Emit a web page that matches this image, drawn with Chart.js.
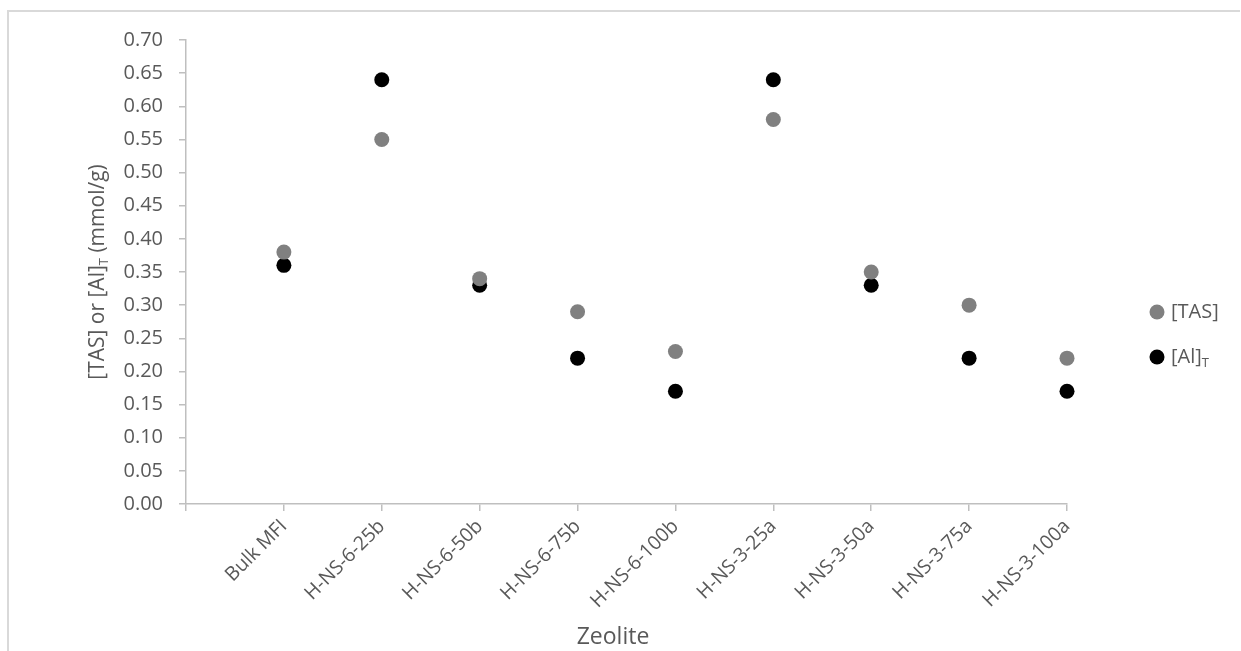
<!DOCTYPE html>
<html>
<head>
<meta charset="utf-8">
<script src="https://cdn.jsdelivr.net/npm/chart.js@4"></script>
<style>
  html, body { margin: 0; padding: 0; background: #ffffff; }
  #wrap { width: 1241px; height: 651px; position: relative; }
</style>
</head>
<body>
<div id="wrap"><canvas id="chart"></canvas></div>
<script>
// Zeolite samples along the x axis
const categories = ['Bulk MFI', 'H-NS-6-25b', 'H-NS-6-50b', 'H-NS-6-75b', 'H-NS-6-100b',
                    'H-NS-3-25a', 'H-NS-3-50a', 'H-NS-3-75a', 'H-NS-3-100a'];
// Total acid sites, mmol/g
const tasValues = [0.38, 0.55, 0.34, 0.29, 0.23, 0.58, 0.35, 0.30, 0.22];
// Tetrahedral aluminium, mmol/g
const alValues  = [0.36, 0.64, 0.33, 0.22, 0.17, 0.64, 0.33, 0.22, 0.17];
// Value axis range
const yMin = 0, yMax = 0.70, yStep = 0.05;

const FONT = '"Open Sans", "Liberation Sans", sans-serif';
const TEXT = '#595959';
const AXIS = '#bfbfbf';

const toPoints = vals => vals.map((v, i) => ({ x: i + 1, y: v }));

// Titles with subscripts, the legend and the frame are painted here
const decorations = {
  id: 'decorations',
  afterDraw(chart) {
    const ctx = chart.ctx;
    const area = chart.chartArea;
    ctx.save();

    // frame around the figure
    ctx.strokeStyle = '#d9d9d9';
    ctx.lineWidth = 2;
    ctx.beginPath();
    ctx.moveTo(8, 660);
    ctx.lineTo(8, 11);
    ctx.lineTo(1240, 11);
    ctx.stroke();

    // draws a run of [text, isSubscript] pieces starting at x, baseline middle at y
    const runWidth = (parts, big, small) => parts.reduce((w, [t, sub]) => {
      ctx.font = (sub ? small : big) + 'px ' + FONT;
      return w + ctx.measureText(t).width;
    }, 0);
    const drawRun = (parts, x, y, big, small) => {
      ctx.textAlign = 'left';
      ctx.textBaseline = 'middle';
      for (const [t, sub] of parts) {
        ctx.font = (sub ? small : big) + 'px ' + FONT;
        ctx.fillText(t, x, sub ? y + big * 0.32 : y);
        x += ctx.measureText(t).width;
      }
    };

    ctx.fillStyle = TEXT;

    // y axis title
    const yTitle = [['[TAS] or [Al]', false], ['T', true], [' (mmol/g)', false]];
    ctx.save();
    ctx.translate(98, (area.top + area.bottom) / 2);
    ctx.rotate(-Math.PI / 2);
    const w = runWidth(yTitle, 21, 13);
    drawRun(yTitle, -w / 2, 0, 21, 13);
    ctx.restore();

    // x axis title
    ctx.font = '23px ' + FONT;
    ctx.textAlign = 'center';
    ctx.textBaseline = 'middle';
    ctx.fillText('Zeolite', 613, 637);

    // legend
    const items = [
      { color: '#808080', parts: [['[TAS]', false]], y: 312 },
      { color: '#000000', parts: [['[Al]', false], ['T', true]], y: 357 }
    ];
    for (const it of items) {
      ctx.fillStyle = it.color;
      ctx.beginPath();
      ctx.arc(1157, it.y, 7.5, 0, Math.PI * 2);
      ctx.fill();
      ctx.fillStyle = TEXT;
      drawRun(it.parts, 1171, it.y, 20, 13);
    }
    ctx.restore();
  }
};

new Chart(document.getElementById('chart'), {
  type: 'scatter',
  data: {
    datasets: [
      { label: '[TAS]', data: toPoints(tasValues), backgroundColor: '#808080', borderColor: '#808080',
        pointRadius: 7.5, pointHoverRadius: 7.5, borderWidth: 0, clip: false },
      { label: '[Al]T', data: toPoints(alValues), backgroundColor: '#000000', borderColor: '#000000',
        pointRadius: 7.5, pointHoverRadius: 7.5, borderWidth: 0, clip: false }
    ]
  },
  options: {
    responsive: true,
    maintainAspectRatio: false,
    animation: false,
    devicePixelRatio: 1,
    layout: { padding: { left: 8, top: 40, right: 174, bottom: 0 } },
    plugins: { legend: { display: false }, tooltip: { enabled: false } },
    scales: {
      x: {
        type: 'linear',
        min: 0,
        max: categories.length,
        afterFit: s => { s.height = 147; },
        afterBuildTicks: s => { s.ticks = categories.map((c, i) => ({ value: i + 1 })); s.ticks.unshift({ value: 0 }); },
        ticks: {
          stepSize: 1,
          autoSkip: false,
          maxRotation: 45,
          minRotation: 45,
          padding: 4,
          color: TEXT,
          font: { family: FONT, size: 19.5 },
          callback: v => categories[v - 1] || ''
        },
        grid: { drawOnChartArea: false, drawTicks: true, tickLength: 7, color: AXIS, lineWidth: 1.5 },
        border: { color: AXIS, width: 1.5 }
      },
      y: {
        min: yMin,
        max: yMax,
        afterFit: s => { s.width = 178; },
        ticks: {
          stepSize: yStep,
          padding: 16,
          color: TEXT,
          font: { family: FONT, size: 20 },
          callback: v => v.toFixed(2)
        },
        grid: { drawOnChartArea: false, drawTicks: true, tickLength: 7, color: AXIS, lineWidth: 1.5 },
        border: { color: AXIS, width: 1.5 }
      }
    }
  },
  plugins: [decorations]
});
</script>
</body>
</html>
